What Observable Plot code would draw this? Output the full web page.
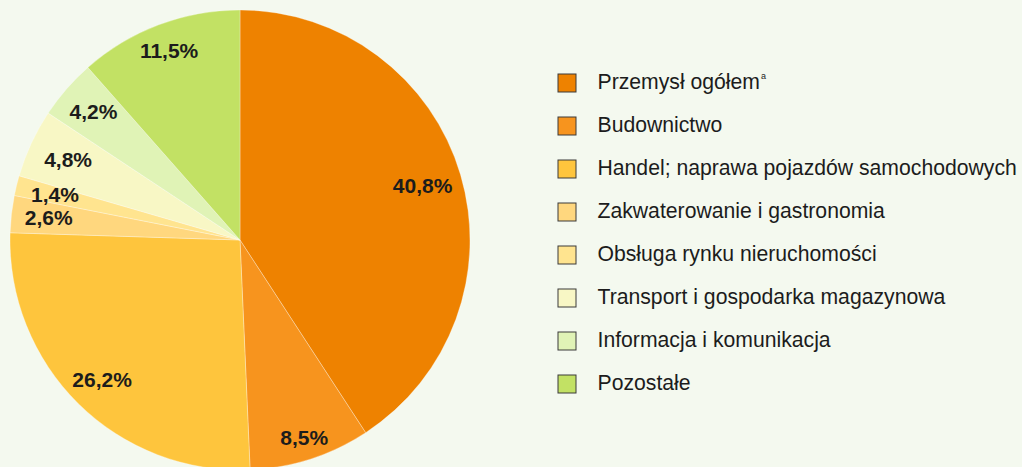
<!DOCTYPE html>
<html>
<head>
<meta charset="utf-8">
<script src="https://cdn.jsdelivr.net/npm/d3@7"></script>
<script src="https://cdn.jsdelivr.net/npm/@observablehq/plot@0.6"></script>
<style>
  html, body { margin: 0; padding: 0; background: #f4f9ef; }
  #chart svg { display: block; }
</style>
</head>
<body>
<div id="chart"></div>
<script>
// ---- data ----
const categories = [
  "Przemysł ogółem",
  "Budownictwo",
  "Handel; naprawa pojazdów samochodowych",
  "Zakwaterowanie i gastronomia",
  "Obsługa rynku nieruchomości",
  "Transport i gospodarka magazynowa",
  "Informacja i komunikacja",
  "Pozostałe"
];
const shares = [40.8, 8.5, 26.2, 2.6, 1.4, 4.8, 4.2, 11.5];
const colors = ["#ee8200", "#f7941e", "#fec53d", "#ffd77e", "#ffe48f", "#f8f7c5", "#e0f3b6", "#c2e164"];
const footnotes = ["a", "", "", "", "", "", "", ""];

// ---- layout ----
const W = 1022, H = 467;
const cx = 240, cy = 240, R = 230;
const labelRadii = [190, 208, 197, 193, 191, 190, 195, 202];
const legendX = 558, legendBox = 18, legendTextX = 597, legendY0 = 83, legendStep = 43;
const fmt = v => v.toFixed(1).replace(".", ",") + "%";

const data = categories.map((c, i) => ({category: c, share: shares[i], color: colors[i], i}));
const arcs = d3.pie().sort(null).value(d => d.share)(data);
const labelData = arcs.map((a, i) => {
  const m = (a.startAngle + a.endAngle) / 2;
  const r = labelRadii[i];
  return {x: cx + r * Math.sin(m), y: cy - r * Math.cos(m), text: fmt(a.data.share)};
});
const legendData = data.map(d => ({...d, y: legendY0 + legendStep * d.i}));

const pieMark = (index, scales) => {
  const g = d3.create("svg:g");
  const arc = d3.arc().innerRadius(0).outerRadius(scales.x(R) - scales.x(0));
  g.selectAll("path").data(arcs).join("path")
    .attr("transform", `translate(${scales.x(cx)},${scales.y(cy)})`)
    .attr("d", arc)
    .attr("fill", d => d.data.color)
    .attr("stroke", "#ffffff")
    .attr("stroke-opacity", 0.5)
    .attr("stroke-width", 0.6);
  return g.node();
};

const chart = Plot.plot({
  width: W,
  height: H,
  margin: 0,
  x: {domain: [0, W], range: [0, W], axis: null},
  y: {domain: [0, H], range: [0, H], axis: null},
  style: {background: "#f4f9ef", fontFamily: "'Liberation Sans', Arial, sans-serif"},
  marks: [
    pieMark,
    Plot.text(labelData, {
      x: "x", y: "y", text: "text",
      fontSize: 21, fontWeight: "bold", fill: "#1c1c1c",
      textAnchor: "middle", lineAnchor: "middle"
    }),
    Plot.rect(legendData, {
      x1: () => legendX, x2: () => legendX + legendBox,
      y1: d => d.y - legendBox / 2, y2: d => d.y + legendBox / 2,
      fill: d => d.color, stroke: "#3a3a3a", strokeWidth: 1
    }),
    Plot.text(legendData, {
      x: () => legendTextX, y: d => d.y - 1, text: "category",
      fontSize: 21.2, fill: "#1c1c1c",
      textAnchor: "start", lineAnchor: "middle"
    })
  ]
});

// superscript footnote marks on legend labels
d3.select(chart).selectAll("text").each(function () {
  const t = this.textContent;
  const i = categories.indexOf(t);
  if (i >= 0 && footnotes[i]) {
    d3.select(this).append("tspan")
      .attr("dx", 1)
      .attr("dy", -10)
      .attr("font-size", 9)
      .text(footnotes[i]);
  }
});

document.getElementById("chart").append(chart);
</script>
</body>
</html>
